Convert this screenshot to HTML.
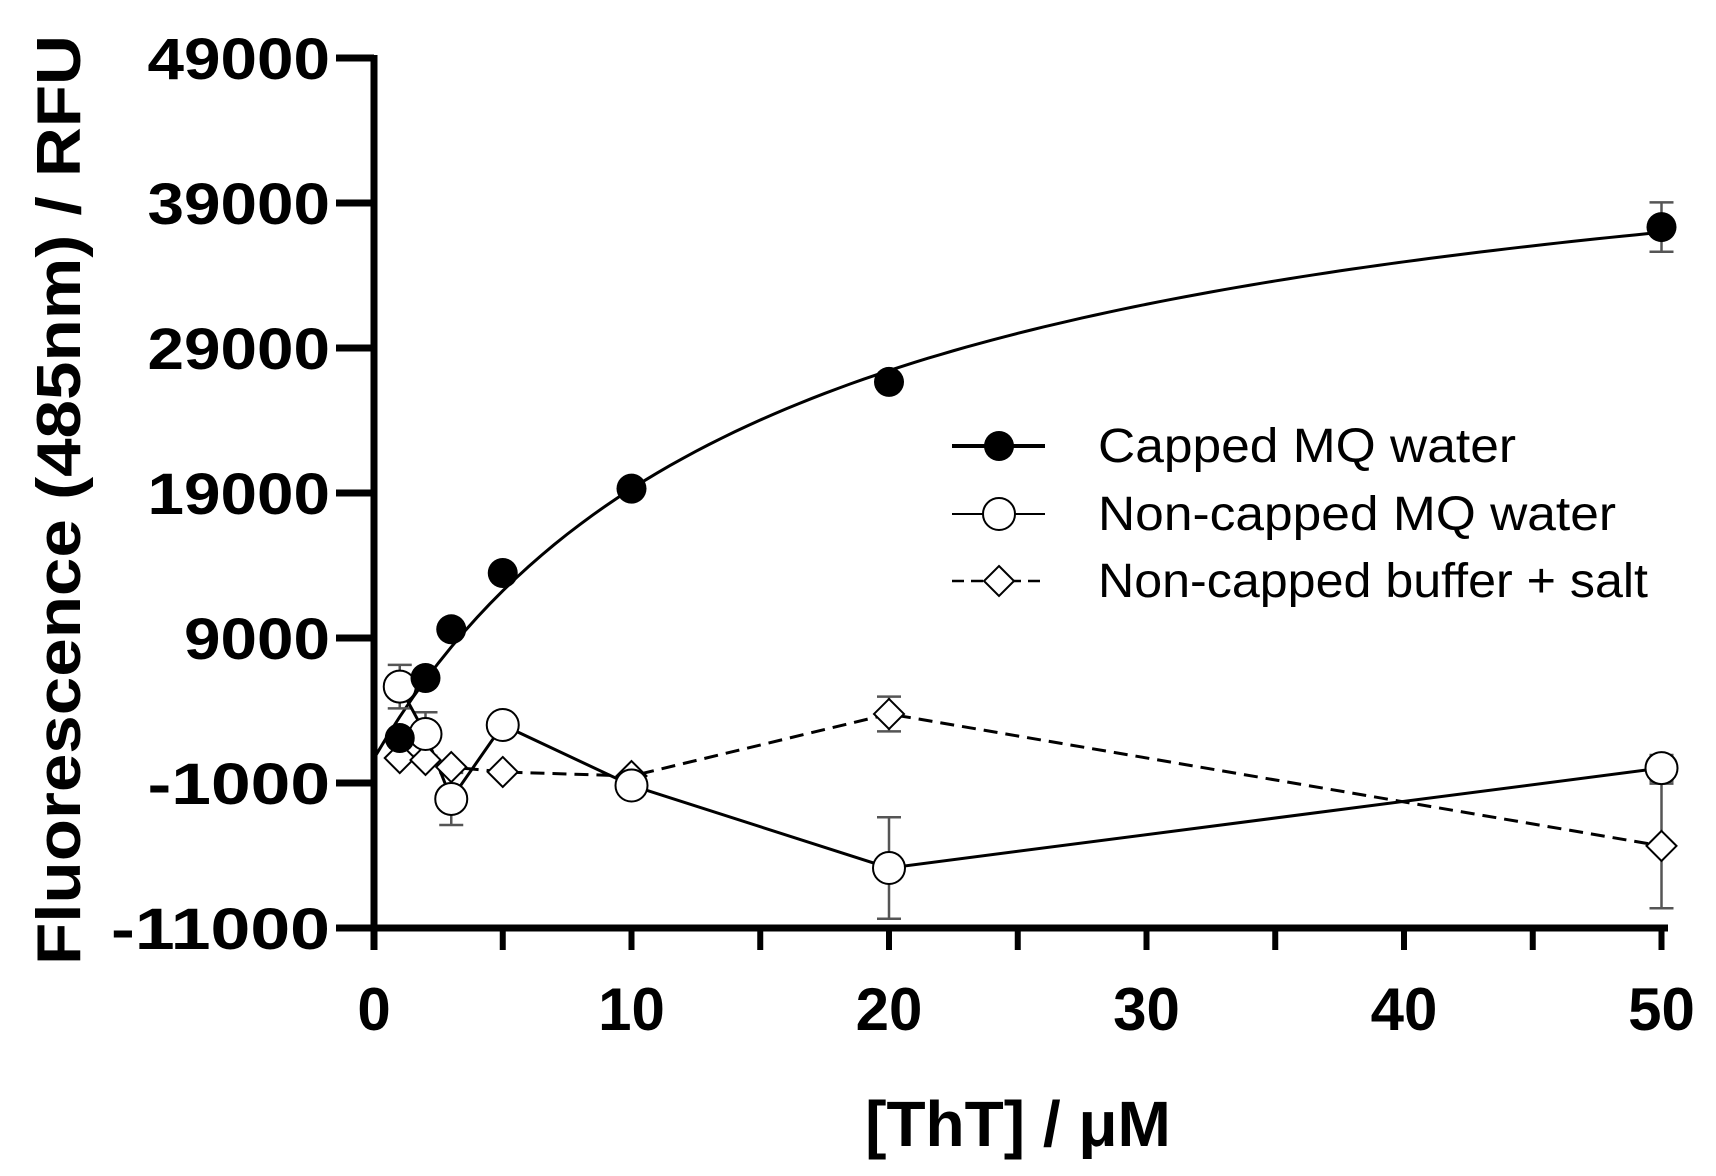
<!DOCTYPE html>
<html><head><meta charset="utf-8"><style>
html,body{margin:0;padding:0;background:#fff;}
svg{display:block;font-family:"Liberation Sans",Arial,sans-serif;}
</style></head><body>
<svg id="s" width="1716" height="1176" xmlns="http://www.w3.org/2000/svg"></svg>
<script>
const X=v=>374+v*25.75, Y=v=>928-(v+11000)*0.0145;
let h='';
h+=`<line x1="374" y1="55" x2="374" y2="950" stroke="#000" stroke-width="7"/>`;
h+=`<line x1="371" y1="928" x2="1668" y2="928" stroke="#000" stroke-width="7"/>`;
[-11000,-1000,9000,19000,29000,39000,49000].forEach(v=>{
 const y=Y(v); const s=String(v);
 h+=`<line x1="336" y1="${y}" x2="374" y2="${y}" stroke="#000" stroke-width="7"/>`;
 h+=`<text x="330" y="${y+21}" text-anchor="end" font-size="58" font-weight="bold" textLength="${s.length*36.5}" lengthAdjust="spacingAndGlyphs">${s}</text>`;
});
for(let v=0;v<=50;v+=5){
 const x=X(v);
 h+=`<line x1="${x}" y1="928" x2="${x}" y2="950" stroke="#000" stroke-width="6"/>`;
 if(v%10==0) h+=`<text x="${x}" y="1030" text-anchor="middle" font-size="60" font-weight="bold">${v}</text>`;
}
h+=`<text x="1018" y="1146" text-anchor="middle" font-size="64" font-weight="bold">[ThT] / μM</text>`;
h+=`<text transform="translate(80,500) rotate(-90)" text-anchor="middle" font-size="62" font-weight="bold" textLength="930" lengthAdjust="spacingAndGlyphs">Fluorescence (485nm) / RFU</text>`;
let p=[];for(let x=0;x<=50;x+=0.5){p.push(X(x)+','+Y(700+47600*x/(15.6+x)));}
h+=`<polyline points="${p.join(' ')}" fill="none" stroke="#000" stroke-width="3"/>`;
const xs=[1,2,3,5,10,20,50];
const cap=[2100,6240,9600,13480,19300,26660,37340], capE=[0,0,0,0,0,0,1700];
const nc=[5650,2380,-2100,3000,-1170,-6860,30], ncE=[1500,1500,1800,0,700,3500,900];
const db=[720,590,100,-240,-520,3760,-5340], dbE=[0,0,0,0,0,1200,4300];
function err(xv,v,e){if(!e)return'';const x=X(xv);return `<g stroke="#555" stroke-width="2.5"><line x1="${x}" y1="${Y(v-e)}" x2="${x}" y2="${Y(v+e)}"/><line x1="${x-12}" y1="${Y(v-e)}" x2="${x+12}" y2="${Y(v-e)}"/><line x1="${x-12}" y1="${Y(v+e)}" x2="${x+12}" y2="${Y(v+e)}"/></g>`;}
xs.forEach((x,i)=>{h+=err(x,nc[i],ncE[i]);h+=err(x,db[i],dbE[i]);h+=err(x,cap[i],capE[i]);});
h+=`<polyline points="${xs.map((x,i)=>X(x)+','+Y(nc[i])).join(' ')}" fill="none" stroke="#000" stroke-width="3"/>`;
h+=`<polyline points="${xs.map((x,i)=>X(x)+','+Y(db[i])).join(' ')}" fill="none" stroke="#000" stroke-width="3" stroke-dasharray="14,8"/>`;
const dia=(x,y)=>`<polygon points="${x},${y-15} ${x+15},${y} ${x},${y+15} ${x-15},${y}" fill="#fff" stroke="#000" stroke-width="2"/>`;
xs.forEach((x,i)=>{h+=dia(X(x),Y(db[i]));});
xs.forEach((x,i)=>{h+=`<circle cx="${X(x)}" cy="${Y(nc[i])}" r="16" fill="#fff" stroke="#000" stroke-width="2"/>`;});
xs.forEach((x,i)=>{h+=`<circle cx="${X(x)}" cy="${Y(cap[i])}" r="15" fill="#000"/>`;});
h+=`<line x1="952" y1="446" x2="1045" y2="446" stroke="#000" stroke-width="4"/><circle cx="999" cy="446" r="15" fill="#000"/>`;
h+=`<line x1="952" y1="514" x2="1045" y2="514" stroke="#000" stroke-width="2"/><circle cx="999" cy="514" r="16" fill="#fff" stroke="#000" stroke-width="2"/>`;
h+=`<line x1="952" y1="581" x2="1045" y2="581" stroke="#000" stroke-width="2.5" stroke-dasharray="12,7"/>`+dia(999,581);
[["Capped MQ water",446,418],["Non-capped MQ water",514,518],["Non-capped buffer + salt",581,550]].forEach(([t,y,l])=>{
 h+=`<text x="1098" y="${y+16}" font-size="48" textLength="${l}" lengthAdjust="spacingAndGlyphs">${t}</text>`;});
document.getElementById('s').innerHTML=h;
</script>
</body></html>
